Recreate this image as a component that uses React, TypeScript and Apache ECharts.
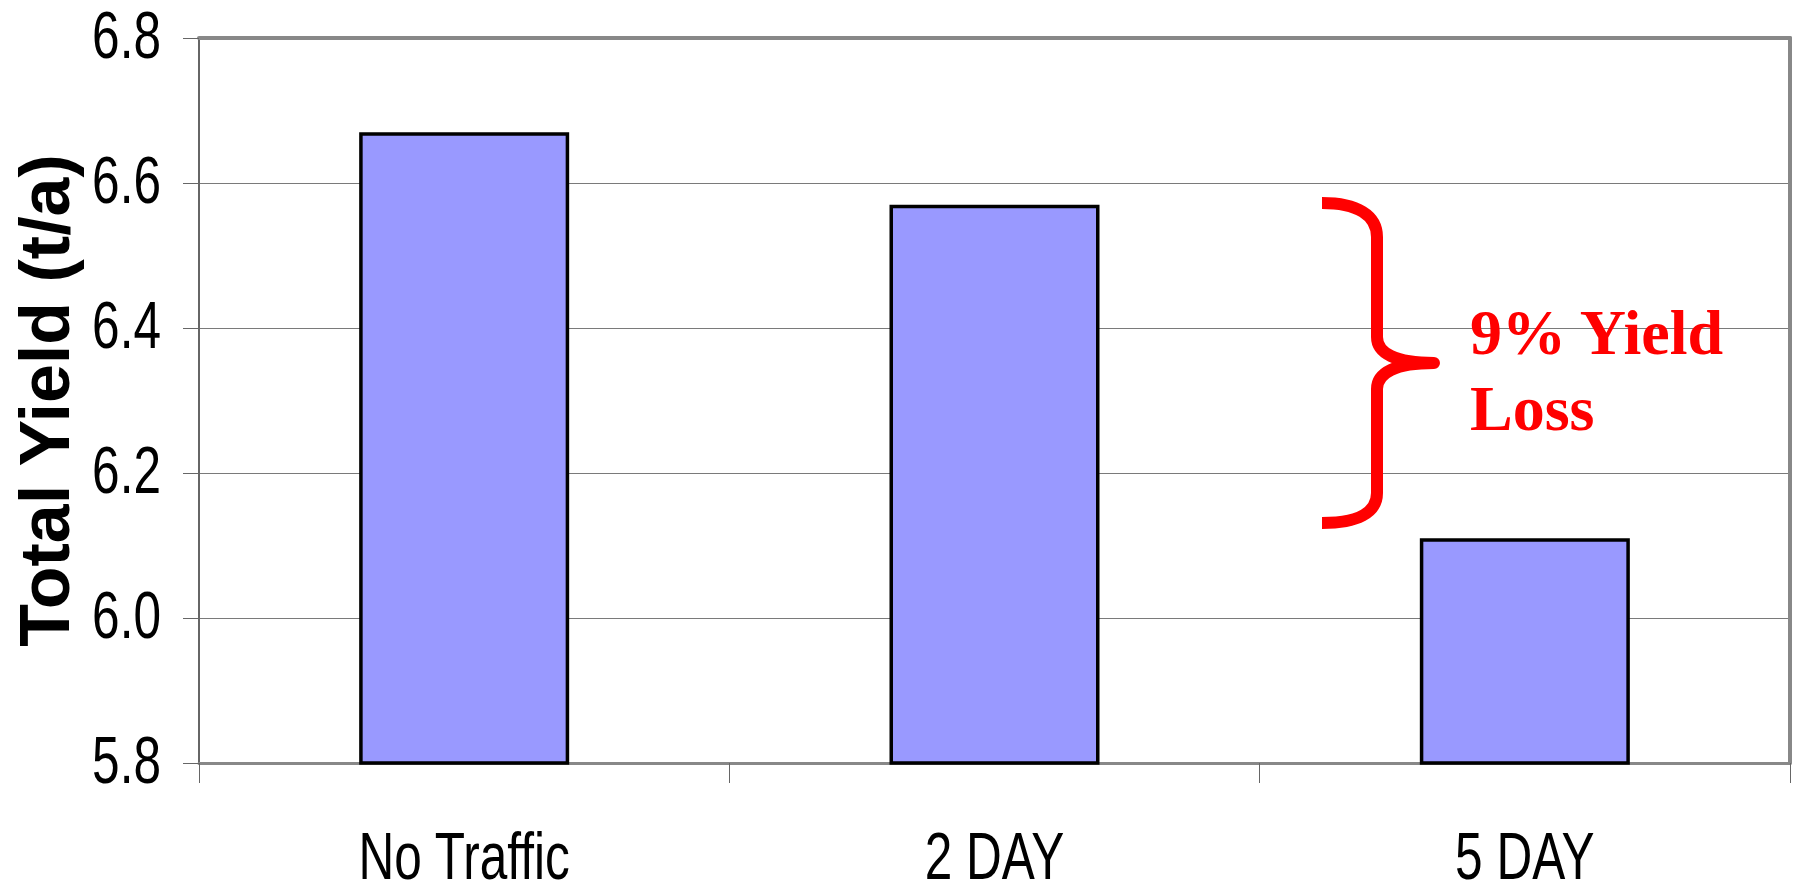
import React, { useEffect, useRef } from "react";
import * as echarts from "echarts";

// Yield per traffic treatment
const categories = ["No Traffic", "2 DAY", "5 DAY"];
const totalYield = [6.67, 6.57, 6.11];

// Value axis range and tick labels
const yMin = 5.8;
const yMax = 6.8;
const yStep = 0.2;
const yTickLabels = ["5.8", "6.0", "6.2", "6.4", "6.6", "6.8"];

const yAxisTitle = "Total Yield (t/a)";
const noteLines = ["9% Yield", "Loss"];

// Curly brace outline (local coordinates, tip pointing right)
const BRACE_D =
  "M0 0 C35 0 55 12 55 34 L55 134 C55 150 73 160 112 160 C73 160 55 170 55 186 L55 290 C55 310 35 320 0 320";
echarts.graphic.registerShape("brace", echarts.graphic.extendPath(BRACE_D, {}));

// Condensed sans look for the axis labels
const LABEL_FONT = "'Liberation Sans', Arial, sans-serif";
const LABEL_SIZE = 67;
const LABEL_SQUEEZE = 0.74;

export default function App() {
  const ref = useRef<HTMLDivElement>(null);

  useEffect(() => {
    if (!ref.current) return;
    const chart = echarts.init(ref.current, undefined, { renderer: "svg" });
    chart.setOption({
      animation: false,
      backgroundColor: "#ffffff",
      grid: {
        left: 199,
        right: 13,
        top: 38,
        bottom: 126,
        outerBoundsMode: "none",
      },
      xAxis: [
        {
          type: "category",
          data: categories,
          position: "bottom",
          axisLine: { show: true, lineStyle: { color: "#888888", width: 3 } },
          axisTick: { show: true, length: 20, lineStyle: { color: "#666666", width: 1 } },
          axisLabel: { show: false },
          splitLine: { show: false },
        },
        {
          type: "category",
          data: categories,
          position: "top",
          axisLine: { show: true, lineStyle: { color: "#888888", width: 4 } },
          axisTick: { show: false },
          axisLabel: { show: false },
          splitLine: { show: false },
        },
      ],
      yAxis: [
        {
          type: "value",
          min: yMin,
          max: yMax,
          interval: yStep,
          position: "left",
          name: yAxisTitle,
          nameLocation: "middle",
          nameRotate: 90,
          nameGap: 119,
          nameTextStyle: {
            fontSize: 70,
            fontWeight: "bold",
            fontFamily: "'Liberation Sans', Arial, sans-serif",
            color: "#000000",
          },
          axisLine: { show: true, lineStyle: { color: "#666666", width: 2 } },
          axisTick: { show: true, length: 16, lineStyle: { color: "#666666", width: 1 } },
          axisLabel: { show: false },
          splitLine: { show: true, lineStyle: { color: "#7a7a7a", width: 1 } },
        },
        {
          type: "value",
          min: yMin,
          max: yMax,
          interval: yStep,
          position: "right",
          axisLine: { show: true, lineStyle: { color: "#888888", width: 4 } },
          axisTick: { show: false },
          axisLabel: { show: false },
          splitLine: { show: false },
        },
      ],
      series: [
        {
          type: "bar",
          data: totalYield,
          xAxisIndex: 0,
          yAxisIndex: 0,
          barWidth: "39.6%",
          itemStyle: {
            color: "#9999ff",
            borderColor: "#000000",
            borderWidth: 3.5,
          },
          z: 3,
        },
      ],
    });

    // Axis labels in a condensed face, placed with the axes' own scales
    const x0 = chart.convertToPixel({ xAxisIndex: 0 }, categories[0]) as number;
    const axisBottomY = chart.convertToPixel({ yAxisIndex: 0 }, yMin) as number;
    const axisLeftX = x0 - (chart.convertToPixel({ xAxisIndex: 0 }, categories[1]) as number - x0) / 2;

    const labelStyle = {
      fontSize: LABEL_SIZE,
      fontFamily: LABEL_FONT,
      lineHeight: 54,
      fill: "#000000",
      verticalAlign: "middle",
    };

    const yLabels = yTickLabels.map((t) => ({
      type: "text",
      x: axisLeftX - 38,
      y: (chart.convertToPixel({ yAxisIndex: 0 }, Number(t)) as number) - 3,
      scaleX: LABEL_SQUEEZE,
      silent: true,
      style: { ...labelStyle, text: t, align: "right" },
    }));

    const xLabels = categories.map((c) => ({
      type: "text",
      x: chart.convertToPixel({ xAxisIndex: 0 }, c) as number,
      y: axisBottomY + 93,
      scaleX: LABEL_SQUEEZE,
      silent: true,
      style: { ...labelStyle, text: c, align: "center" },
    }));

    chart.setOption({
      graphic: [
        ...yLabels,
        ...xLabels,
        {
          type: "brace",
          x: 1322,
          y: 203,
          silent: true,
          style: {
            stroke: "#ff0000",
            lineWidth: 12,
            fill: "none",
            lineCap: "butt",
            lineJoin: "round",
          },
          z: 10,
        },
        {
          type: "text",
          x: 1470,
          y: 294,
          silent: true,
          style: {
            text: noteLines.join("\n"),
            fontSize: 64,
            fontWeight: "bold",
            fontFamily: "'Liberation Serif', 'Times New Roman', serif",
            lineHeight: 76,
            fill: "#ff0000",
          },
          z: 10,
        },
      ],
    });
    return () => chart.dispose();
  }, []);

  return (
    <div
      ref={ref}
      style={{ position: "fixed", left: 0, top: 0, width: 1803, height: 889 }}
    />
  );
}
